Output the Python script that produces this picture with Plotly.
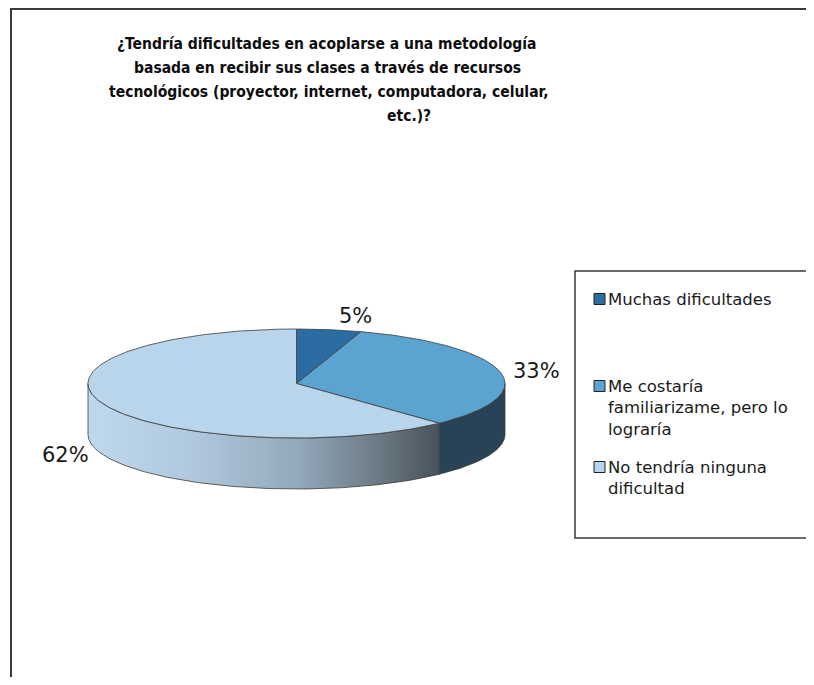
import numpy as np
import plotly.graph_objects as go

# DATA

TITLE_LINES = [
    "¿Tendría dificultades en acoplarse a una metodología",
    "basada en recibir sus clases a través de recursos",
    "tecnológicos (proyector, internet, computadora, celular,",
    "etc.)?",
]
CATEGORIES = [
    "Muchas dificultades",
    "Me costaría familiarizame, pero lo lograría",
    "No tendría ninguna dificultad",
]
LEGEND_LINES = [
    ["Muchas dificultades"],
    ["Me costaría", "familiarizame, pero lo", "lograría"],
    ["No tendría ninguna", "dificultad"],
]
PERCENTS = [5, 33, 62]

# STYLE

TOP_COLORS = ["#2B6CA3", "#5BA3D0", "#B9D5EC"]
SIDE_COLORS = ["#1F4F78", "#294356", None]
SIDE_GRADIENT = [[0, "#BFD8EE"], [0.3, "#B0C8DD"], [0.6, "#93A8BA"],
                 [0.85, "#67757F"], [1, "#46525C"]]
EDGE = "#3C3C3C"
BORDER = "#3A3A3A"
FONT = "DejaVu Sans"

# pie geometry in screen pixels (axes are set to pixel units below)
CX, CY, RX, RY, DEPTH = 296.5, 383.5, 208.5, 54.5, 51
LABEL_RX, LABEL_RY = 246, 70
LABEL_NUDGE = [(21, 2), (0, 3), (-2, 46)]

# page body has an 8px margin, so the figure is drawn from (8, 8)
X0, Y0, W, H = 8, 8, 798, 669
XR, YB = X0 + W, Y0 + H


def rim(t_deg, drop=0.0):
    t = np.radians(t_deg)
    return CX + RX * np.sin(t), CY - RY * np.cos(t) + drop


total = sum(PERCENTS)
ends = np.cumsum(PERCENTS) / total * 360
starts = np.concatenate([[0], ends[:-1]])

fig = go.Figure()

# chart area border (top + left) and legend box (right side runs off the picture)
fig.add_trace(go.Scatter(
    x=[11, 11, XR + 40], y=[YB + 40, 9, 9], mode="lines",
    line=dict(color=BORDER, width=2), hoverinfo="skip", showlegend=False,
))
fig.add_trace(go.Scatter(
    x=[XR + 40, 575, 575, XR + 40], y=[271, 271, 538, 538], mode="lines",
    line=dict(color=BORDER, width=1.5), hoverinfo="skip", showlegend=False,
))

# side walls (only the front half, 90..270 deg, is visible)
for i, (t1, t2) in enumerate(zip(starts, ends)):
    lo, hi = max(t1, 90), min(t2, 270)
    if lo >= hi:
        continue
    ts = np.linspace(lo, hi, 120)
    xt, yt = rim(ts)
    xb, yb = rim(ts[::-1], DEPTH)
    xs = np.concatenate([xt, xb, xt[:1]])
    ys = np.concatenate([yt, yb, yt[:1]])
    kw = dict(fillcolor=SIDE_COLORS[i])
    if SIDE_COLORS[i] is None:
        kw = dict(fillgradient=dict(type="horizontal", colorscale=SIDE_GRADIENT))
    fig.add_trace(go.Scatter(
        x=xs, y=ys, mode="lines", fill="toself",
        line=dict(color=EDGE, width=0.8),
        hoverinfo="skip", showlegend=False, **kw,
    ))

# top faces
for i, (t1, t2) in enumerate(zip(starts, ends)):
    ts = np.linspace(t1, t2, 200)
    xa, ya = rim(ts)
    xs = np.concatenate([[CX], xa, [CX]])
    ys = np.concatenate([[CY], ya, [CY]])
    fig.add_trace(go.Scatter(
        x=xs, y=ys, mode="lines", fill="toself",
        fillcolor=TOP_COLORS[i],
        line=dict(color=EDGE, width=0.8),
        name=CATEGORIES[i],
        hovertemplate=f"{CATEGORIES[i]}: {PERCENTS[i]}%<extra></extra>",
        showlegend=False,
    ))

# data labels
for i, (t1, t2) in enumerate(zip(starts, ends)):
    mid = np.radians((t1 + t2) / 2)
    fig.add_annotation(
        x=CX + LABEL_RX * np.sin(mid) + LABEL_NUDGE[i][0],
        y=CY - LABEL_RY * np.cos(mid) + LABEL_NUDGE[i][1],
        text=f"{PERCENTS[i] / total * 100:.0f}%",
        showarrow=False,
        font=dict(family=FONT, size=21, color="#1A1A1A"),
    )

# title, line by line (Excel-style wrapping)
title_pos = [(326, 44), (327, 68), (328, 92), (409, 116)]
for line, (x, y) in zip(TITLE_LINES, title_pos):
    fig.add_annotation(
        x=x, y=y, text=f"<b>{line}</b>", showarrow=False,
        font=dict(family="DejaVu Sans Condensed", size=15.5, color="#0D0D0D"),
    )

# legend entries
legend_y = [299, 386, 467]
LINE_H = 21.5
for i, lines in enumerate(LEGEND_LINES):
    y0 = legend_y[i]
    fig.add_shape(type="rect", x0=594, x1=605, y0=y0 - 5.5, y1=y0 + 5.5,
                  fillcolor=TOP_COLORS[i], line=dict(color="#222222", width=1))
    for k, line in enumerate(lines):
        fig.add_annotation(
            x=606, y=y0 + k * LINE_H, xanchor="left", yanchor="middle",
            text=line, showarrow=False,
            font=dict(family=FONT, size=16.5, color="#1A1A1A"),
        )

fig.update_layout(
    width=W, height=H,
    margin=dict(l=0, r=0, t=0, b=0),
    paper_bgcolor="white", plot_bgcolor="white",
    xaxis=dict(range=[X0, XR], visible=False, fixedrange=True),
    yaxis=dict(range=[YB, Y0], visible=False, fixedrange=True),
    showlegend=False,
)

fig.write_html("out.html")
